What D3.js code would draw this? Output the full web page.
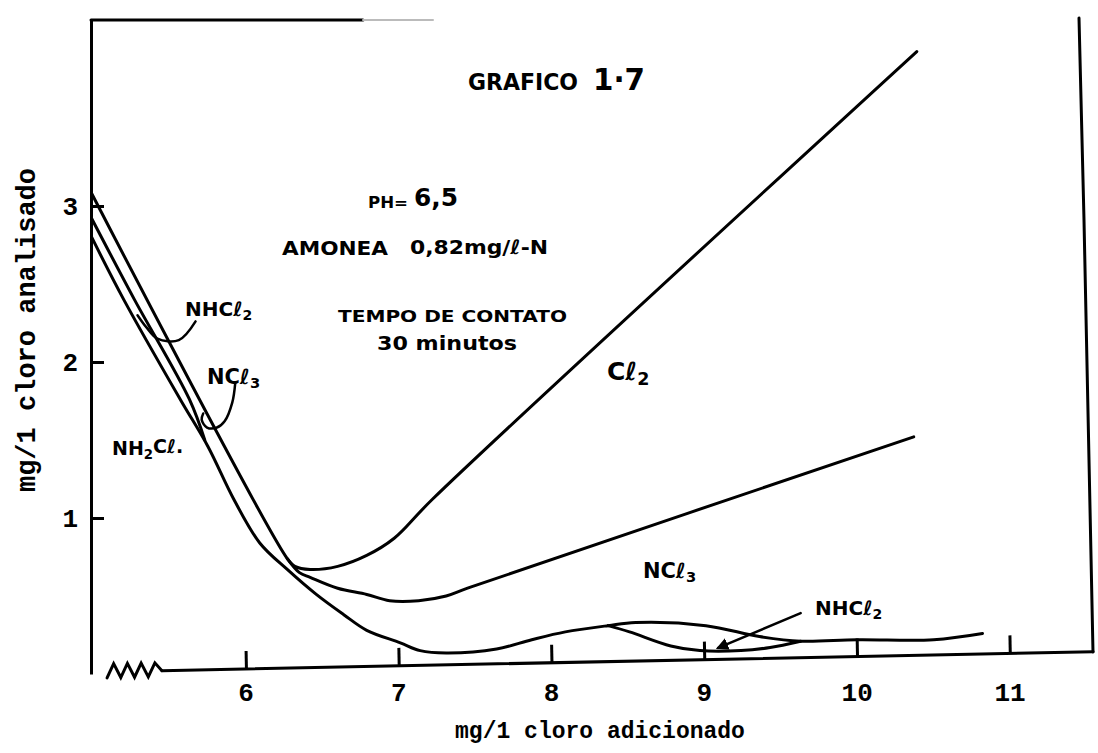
<!DOCTYPE html>
<html>
<head>
<meta charset="utf-8">
<script src="https://cdn.jsdelivr.net/npm/d3@7"></script>
<style>
  body { margin: 0; background: #fff; }
  svg { display: block; background: #fff; }
  .curve { fill: none; stroke: #000; stroke-width: 3; stroke-linejoin: round; stroke-linecap: round; }
  .axis text, .xlab { font-family: "Liberation Mono", monospace; font-weight: bold; font-size: 26px; fill: #000; }
  .axis line, .axis path { stroke: #000; stroke-width: 3; }
  .frame { fill: none; stroke: #000; stroke-width: 3; stroke-linecap: round; }
  .note { font-family: "DejaVu Sans", sans-serif; font-weight: bold; fill: #000; }
  .title { font-family: "Liberation Mono", monospace; font-weight: bold; fill: #000; }
</style>
</head>
<body>
<div id="chart"></div>
<script>
// x: mg/l cloro adicionado, y: mg/l cloro analisado
var xTicks = [6, 7, 8, 9, 10, 11]
var yTicks = [1, 2, 3]

// Cl2 (top line, then free chlorine rise)
var cl2X = [4.99, 6.27, 6.32, 6.42, 6.60, 6.79, 6.97, 7.22, 10.39]
var cl2Y = [3.08, 0.74, 0.69, 0.67, 0.69, 0.76, 0.87, 1.12, 3.99]

// NCl3
var ncl3X = [6.27, 6.35, 6.42, 6.60, 6.79, 6.94, 7.13, 7.31, 7.45, 10.37]
var ncl3Y = [0.74, 0.65, 0.62, 0.55, 0.51, 0.47, 0.47, 0.50, 0.55, 1.52]

// NH2Cl (lowest curve)
var nh2clX = [4.99, 5.20, 5.57, 5.75, 5.92, 6.09, 6.27, 6.46, 6.64, 6.79, 7.01, 7.14, 7.31, 7.64, 7.87, 8.09, 8.37, 8.55, 9.01, 9.36, 9.63, 10.0, 10.5, 10.82]
var nh2clY = [2.80, 2.40, 1.76, 1.46, 1.12, 0.84, 0.67, 0.51, 0.38, 0.28, 0.20, 0.15, 0.135, 0.16, 0.22, 0.27, 0.31, 0.33, 0.31, 0.24, 0.21, 0.22, 0.22, 0.26]

// NHCl2 - left part (joins NH2Cl) and right part (the dip)
var nhcl2LeftX = [4.99, 5.27, 5.63, 5.73]
var nhcl2LeftY = [2.92, 2.40, 1.76, 1.50]
var nhcl2RightX = [8.37, 8.51, 8.78, 8.97, 9.24, 9.43, 9.63]
var nhcl2RightY = [0.31, 0.27, 0.18, 0.15, 0.15, 0.17, 0.21]

function zip(xs, ys) {
  return xs.map(function(v, i) { return [v, ys[i]]; });
}

var width = 1098, height = 753;

var x = d3.scaleLinear().domain([6, 11]).range([246, 1010]);
var y = d3.scaleLinear().domain([0, 1]).range([674, 518]);

var svg = d3.select("#chart")
  .append("svg")
  .attr("width", width)
  .attr("height", height);

// y axis (left border)
svg.append("g")
  .attr("class", "axis")
  .attr("transform", "translate(91,0)")
  .call(d3.axisLeft(y.copy().domain([0, y.invert(20)]).range([674, 20]))
    .tickValues(yTicks)
    .tickSizeInner(-13)
    .tickSizeOuter(0)
    .tickPadding(13)
    .tickFormat(d3.format("d")));

// top + right border
svg.append("path").attr("class", "frame")
  .attr("d", "M91,20 L363,20");
svg.append("path").attr("class", "frame")
  .style("stroke", "#bbb").style("stroke-width", 2)
  .attr("d", "M363,20 L433,20");
svg.append("path").attr("class", "frame")
  .attr("d", "M1079,18 L1084,220 L1093,652");

// x axis, slightly tilted as in the drawing
var xEnd = x(11.545);
var xg = svg.append("g")
  .attr("class", "axis")
  .attr("transform", "translate(0,674) rotate(-1.17)");

xg.call(d3.axisBottom(x)
    .tickValues(xTicks)
    .tickSizeInner(-18)
    .tickSizeOuter(0)
    .tickFormat(function() { return ""; }));
xg.select(".domain").remove();

var breakEnd = x(5.45);
xg.append("path").attr("class", "frame")
  .attr("d", "M" + breakEnd + ",0 L" + xEnd + ",0");
// axis break zigzag
var zig = [];
var zx0 = x(5.09), step = (breakEnd - zx0) / 8;
for (var i = 0; i <= 8; i++) {
  zig.push([zx0 + i * step, i === 8 ? 0 : (i % 2 === 0 ? 6 : -8)]);
}
xg.append("path").attr("class", "frame")
  .attr("d", d3.line()(zig));

// x tick labels sit level, not tilted
svg.selectAll(".xlab")
  .data(xTicks)
  .enter()
  .append("text")
  .attr("class", "xlab")
  .attr("x", function(d) { return x(d); })
  .attr("y", 701)
  .attr("text-anchor", "middle")
  .text(function(d) { return d; });

// curves
var line = d3.line()
  .x(function(d) { return x(d[0]); })
  .y(function(d) { return y(d[1]); })
  .curve(d3.curveCatmullRom.alpha(0.5));

[zip(cl2X, cl2Y), zip(ncl3X, ncl3Y), zip(nh2clX, nh2clY),
 zip(nhcl2LeftX, nhcl2LeftY), zip(nhcl2RightX, nhcl2RightY)].forEach(function(s) {
  svg.append("path").attr("class", "curve").attr("d", line(s));
});

// leader lines for the labels
svg.append("path").attr("class", "curve").style("stroke-width", 2.5)
  .attr("d", line([[5.67, 2.26], [5.56, 2.14], [5.42, 2.15], [5.35, 2.22], [5.29, 2.30]]));
svg.append("path").attr("class", "curve").style("stroke-width", 2.5)
  .attr("d", line([[5.93, 1.87], [5.91, 1.74], [5.86, 1.62], [5.81, 1.58], [5.745, 1.58], [5.71, 1.63], [5.72, 1.67]]));

svg.append("defs").append("marker")
  .attr("id", "arr").attr("viewBox", "0 0 10 10")
  .attr("refX", 8).attr("refY", 5)
  .attr("markerWidth", 5).attr("markerHeight", 5)
  .attr("orient", "auto")
  .append("path").attr("d", "M0,0 L10,5 L0,10 z").attr("fill", "#000");
svg.append("path").attr("class", "curve").style("stroke-width", 2.5)
  .attr("marker-end", "url(#arr)")
  .attr("d", line([[9.63, 0.39], [9.09, 0.167]]));

// axis titles
svg.append("text").attr("class", "title")
  .attr("x", 600).attr("y", 738)
  .attr("text-anchor", "middle")
  .style("font-size", "23px")
  .text("mg/1 cloro adicionado");

svg.append("text").attr("class", "title")
  .attr("transform", "translate(35,330) rotate(-90)")
  .attr("text-anchor", "middle")
  .style("font-size", "27px")
  .text("mg/1 cloro analisado");

// handwritten notes
function note(px, py, size, parts, len) {
  var t = svg.append("text").attr("class", "note")
    .attr("x", px).attr("y", py).style("font-size", size + "px");
  if (len) t.attr("textLength", len).attr("lengthAdjust", "spacingAndGlyphs");
  parts.forEach(function(p) {
    var ts = t.append("tspan").text(p[0]);
    if (p[1] === "sub") ts.attr("dy", "0.3em").style("font-size", (size * 0.7) + "px");
    if (p[1] === "up") ts.attr("dy", "-0.3em");
  });
  return t;
}

note(468, 90, 23, [["GRAFICO"]], 110);
note(593, 90, 30, [["1·7"]], 52);
note(368, 208, 16, [["PH="]], 40);
note(414, 206, 24, [["6,5"]], 44);
note(282, 255, 20, [["AMONEA"]], 106);
note(410, 254, 20, [["0,82mg/ℓ-N"]], 138);
note(338, 322, 16, [["TEMPO DE CONTATO"]], 229);
note(377, 350, 19, [["30 minutos"]], 140);

note(607, 380, 25, [["Cℓ"], ["2", "sub"]]);
note(185, 316, 20, [["NHCℓ"], ["2", "sub"]]);
note(207, 384, 21, [["NCℓ"], ["3", "sub"]]);
note(112, 455, 19, [["NH"], ["2", "sub"], ["Cℓ.", "up"]]);
note(643, 578, 21, [["NCℓ"], ["3", "sub"]]);
note(815, 615, 20, [["NHCℓ"], ["2", "sub"]]);
</script>
</body>
</html>
